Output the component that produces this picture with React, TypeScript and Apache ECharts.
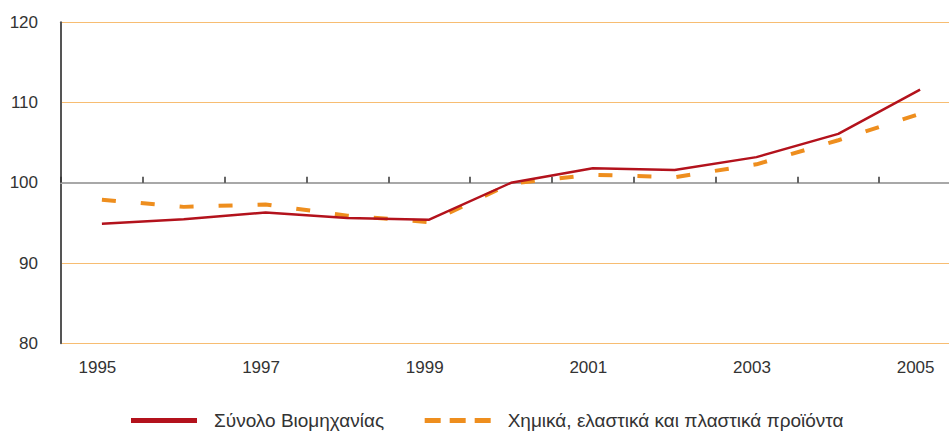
import React, { useEffect, useRef } from "react";
import * as echarts from "echarts";

const years = ["1995", "1996", "1997", "1998", "1999", "2000", "2001", "2002", "2003", "2004", "2005"];
const totalIndustry = [94.9, 95.45, 96.3, 95.6, 95.4, 100.0, 101.8, 101.6, 103.2, 106.1, 111.6];
const chemicals = [97.9, 97.0, 97.3, 95.9, 95.1, 99.9, 101.0, 100.7, 102.3, 105.3, 108.6];
const seriesNames = ["Σύνολο Βιομηχανίας", "Χημικά, ελαστικά και πλαστικά προϊόντα"];
const yTicks = [80, 90, 100, 110, 120];

const FONT = "'Liberation Sans Narrow', 'Liberation Sans', Arial, sans-serif";
const RED = "#B3121C";
const ORANGE = "#EE8E1E";
const GRID_ORANGE = "#F7BD72";
const FS = 17;

export default function App() {
  const ref = useRef<HTMLDivElement>(null);
  useEffect(() => {
    if (!ref.current) return;
    const chart = echarts.init(ref.current, undefined, { renderer: "svg" });
    chart.setOption({
      animation: false,
      backgroundColor: "#ffffff",
      textStyle: { fontFamily: FONT },
      grid: { left: 61, top: 22.3, width: 900, height: 321, outerBoundsMode: "none", containLabel: false },
      legend: {
        left: 126,
        top: 406,
        padding: 5,
        itemGap: 38,
        itemWidth: 66,
        itemHeight: 5,
        textStyle: { fontFamily: FONT, fontSize: 19, color: "#333333", padding: [0, 0, 0, 12] },
        data: [
          { name: seriesNames[0], icon: "rect", itemStyle: { color: RED } },
          {
            name: seriesNames[1],
            lineStyle: { type: [16, 9], width: 5, color: ORANGE },
          },
        ],
      },
      xAxis: [
        {
          type: "category",
          data: years,
          boundaryGap: true,
          position: "bottom",
          axisLine: { show: false },
          axisTick: { show: false },
          axisLabel: {
            interval: 1,
            margin: 16,
            fontSize: FS,
            color: "#333333",
            fontFamily: FONT,
            padding: [0, 9, 0, 0],
          },
          splitLine: { show: false },
        },
        {
          type: "category",
          data: years,
          boundaryGap: true,
          position: "bottom",
          offset: -160.5,
          axisLine: { show: true, onZero: false, lineStyle: { color: "#A8A8A8", width: 2 } },
          axisTick: { show: true, inside: true, length: 6, interval: 0, lineStyle: { color: "#333333", width: 1.5 } },
          axisLabel: { show: false },
          splitLine: { show: false },
        },
      ],
      yAxis: {
        type: "value",
        min: yTicks[0],
        max: yTicks[yTicks.length - 1],
        interval: 10,
        axisLine: { show: true, lineStyle: { color: "#555555", width: 2 } },
        axisTick: { show: false },
        axisLabel: { fontSize: FS, color: "#333333", margin: 23, fontFamily: FONT },
        splitLine: {
          show: true,
          lineStyle: { color: [GRID_ORANGE, GRID_ORANGE, "#A8A8A8", GRID_ORANGE, GRID_ORANGE], width: 1.2 },
        },
      },
      series: [
        {
          name: seriesNames[0],
          type: "line",
          data: totalIndustry,
          symbol: "none",
          lineStyle: { color: RED, width: 2.5 },
          itemStyle: { color: RED },
          z: 3,
        },
        {
          name: seriesNames[1],
          type: "line",
          data: chemicals,
          symbol: "none",
          lineStyle: { color: ORANGE, width: 4, type: [14, 25] },
          itemStyle: { color: ORANGE },
          z: 2,
        },
      ],
    });
    return () => chart.dispose();
  }, []);
  return <div ref={ref} style={{ position: "absolute", left: 0, top: 0, width: 949, height: 431 }} />;
}
